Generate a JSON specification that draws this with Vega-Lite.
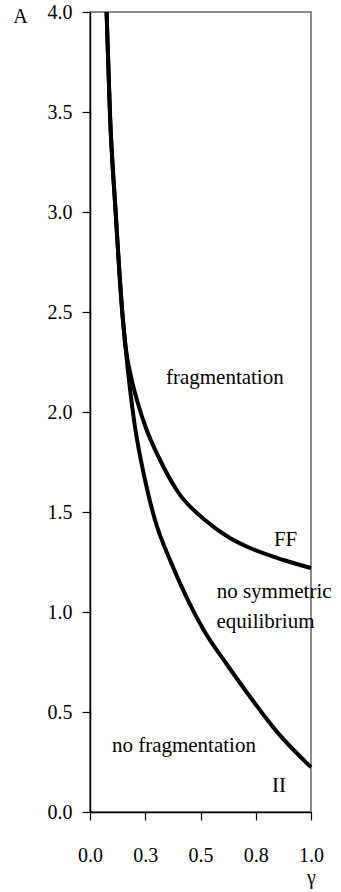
{
  "$schema": "https://vega.github.io/schema/vega-lite/v6.json",
  "width": 221,
  "height": 800,
  "autosize": {"type": "none"},
  "padding": {"left": 90, "top": 12, "right": 30, "bottom": 80},
  "background": "white",
  "config": {
    "view": {"stroke": "#8a8a8a", "strokeWidth": 2},
    "font": "Liberation Serif, Times New Roman, serif",
    "axis": {
      "grid": false,
      "domainColor": "black",
      "domainWidth": 1.5,
      "tickColor": "black",
      "tickWidth": 1.2,
      "tickSize": 8,
      "labelFont": "Liberation Serif, Times New Roman, serif",
      "labelFontSize": 20,
      "labelColor": "black",
      "labelFlush": false,
      "labelOverlap": false,
      "titleFont": "Liberation Serif, Times New Roman, serif",
      "titleFontSize": 20,
      "titleFontWeight": "normal",
      "titleColor": "black"
    }
  },
  "datasets": {
    "curves": [
      {"curve": "FF", "gamma": 0.075, "A": 4.0},
      {"curve": "FF", "gamma": 0.09, "A": 3.5},
      {"curve": "FF", "gamma": 0.116, "A": 3.0},
      {"curve": "FF", "gamma": 0.146, "A": 2.5},
      {"curve": "FF", "gamma": 0.163, "A": 2.31},
      {"curve": "FF", "gamma": 0.185, "A": 2.18},
      {"curve": "FF", "gamma": 0.215, "A": 2.05},
      {"curve": "FF", "gamma": 0.253, "A": 1.92},
      {"curve": "FF", "gamma": 0.317, "A": 1.76},
      {"curve": "FF", "gamma": 0.398, "A": 1.6},
      {"curve": "FF", "gamma": 0.52, "A": 1.46},
      {"curve": "FF", "gamma": 0.633, "A": 1.37},
      {"curve": "FF", "gamma": 0.724, "A": 1.32},
      {"curve": "FF", "gamma": 0.875, "A": 1.26},
      {"curve": "FF", "gamma": 1.0, "A": 1.22},
      {"curve": "II", "gamma": 0.075, "A": 4.0},
      {"curve": "II", "gamma": 0.09, "A": 3.5},
      {"curve": "II", "gamma": 0.116, "A": 3.0},
      {"curve": "II", "gamma": 0.146, "A": 2.5},
      {"curve": "II", "gamma": 0.162, "A": 2.31},
      {"curve": "II", "gamma": 0.199, "A": 1.96},
      {"curve": "II", "gamma": 0.249, "A": 1.66},
      {"curve": "II", "gamma": 0.294, "A": 1.46},
      {"curve": "II", "gamma": 0.362, "A": 1.26},
      {"curve": "II", "gamma": 0.443, "A": 1.06},
      {"curve": "II", "gamma": 0.513, "A": 0.913},
      {"curve": "II", "gamma": 0.618, "A": 0.74},
      {"curve": "II", "gamma": 0.709, "A": 0.599},
      {"curve": "II", "gamma": 0.845, "A": 0.402},
      {"curve": "II", "gamma": 1.0, "A": 0.224}
    ],
    "labels": [
      {"label": "fragmentation", "gamma": 0.61, "A": 2.17},
      {"label": "FF", "gamma": 0.885, "A": 1.36},
      {"label": "no symmetric", "gamma": 0.833, "A": 1.1},
      {"label": "equilibrium", "gamma": 0.794, "A": 0.95},
      {"label": "no fragmentation", "gamma": 0.425, "A": 0.33},
      {"label": "II", "gamma": 0.855, "A": 0.13}
    ]
  },
  "layer": [
    {
      "data": {"name": "curves"},
      "mark": {"type": "line", "interpolate": "monotone", "strokeWidth": 4, "color": "black"},
      "encoding": {
        "x": {
          "field": "gamma", "type": "quantitative",
          "scale": {"domain": [0, 1], "nice": false, "zero": false},
          "axis": {
            "values": [0, 0.25, 0.5, 0.75, 1],
            "format": ".1f",
            "labelPadding": 25,
            "title": "γ",
            "titleX": 221,
            "titleY": 65,
            "titleAlign": "center",
            "titleBaseline": "middle"
          }
        },
        "y": {
          "field": "A", "type": "quantitative",
          "scale": {"domain": [0, 4], "nice": false},
          "axis": {
            "values": [0, 0.5, 1, 1.5, 2, 2.5, 3, 3.5, 4],
            "format": ".1f",
            "labelPadding": 10,
            "title": "A",
            "titleAngle": 0,
            "titleX": -70,
            "titleY": 4,
            "titleAlign": "center",
            "titleBaseline": "middle"
          }
        },
        "detail": {"field": "curve"}
      }
    },
    {
      "data": {"name": "labels"},
      "mark": {"type": "text", "font": "Liberation Serif, Times New Roman, serif", "fontSize": 21, "color": "black", "align": "center", "baseline": "middle"},
      "encoding": {
        "x": {"field": "gamma", "type": "quantitative"},
        "y": {"field": "A", "type": "quantitative"},
        "text": {"field": "label"}
      }
    }
  ]
}
